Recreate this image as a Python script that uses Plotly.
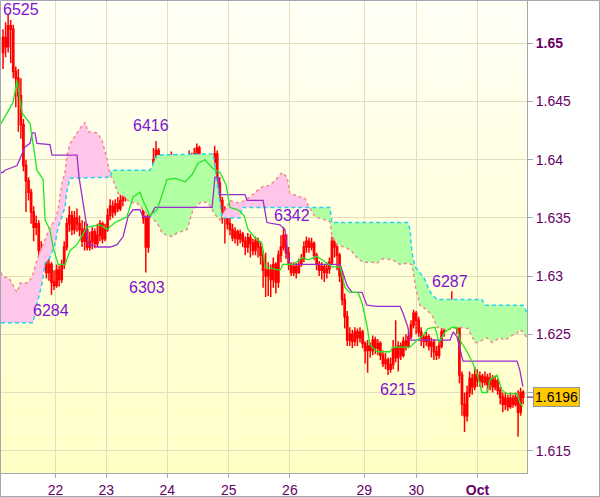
import numpy as np
import plotly.graph_objects as go

# ---------------- data (prices in pips above 1.6000) ----------------
BASE = 1.6
PIP = 1e-4

first_open = 492
close = [505, 497, 515, 512, 476, 470, 455, 430, 395, 382,
         372, 355, 342, 345, 322, 312, 318, 303, 310, 295,
         292, 305, 297, 310, 325, 345, 352, 340, 350, 345,
         340, 330, 340, 325, 330, 338, 328, 335, 345, 332,
         340, 352, 360, 355, 362, 358, 365, 368, 372, 370,
         380, 386, 378, 385, 382, 350, 325, 355, 385, 400,
         408, 385, 365, 372, 360, 395, 402, 390, 398, 392,
         396, 390, 398, 403, 396, 405, 410, 402, 395, 390,
         393, 384, 398, 405, 380, 365, 350, 355, 345, 340,
         333, 338, 332, 336, 330, 325, 333, 328, 322, 330,
         325, 318, 305, 300, 305, 297, 310, 295, 318, 325,
         335, 320, 310, 303, 308, 303, 310, 315, 325, 330,
         325, 328, 318, 310, 305, 308, 303, 306, 312, 330,
         325, 318, 300, 280, 265, 245, 250, 244, 252, 247,
         252, 242, 236, 240, 236, 245, 238, 242, 232, 225,
         228, 220, 224, 238, 230, 240, 232, 244, 240, 248,
         258, 268, 262, 252, 247, 244, 248, 240, 243, 235,
         232, 240, 252, 262, 268, 262, 272, 262, 255, 215,
         190, 180, 200, 212, 205, 215, 210, 214, 209, 213,
         207, 212, 205, 210, 202, 196, 190, 195, 188, 195,
         190, 196, 183, 200, 196]
high = [512, 518, 525, 520, 516, 480, 478, 470, 435, 400,
        385, 375, 360, 352, 348, 330, 322, 320, 315, 312,
        305, 310, 309, 314, 330, 350, 360, 356, 356, 358,
        352, 348, 347, 345, 338, 342, 341, 345, 348, 347,
        345, 358, 366, 365, 366, 368, 370, 372, 378, 378,
        385, 389, 388, 390, 388, 384, 352, 362, 392, 410,
        416, 410, 390, 380, 378, 400, 407, 405, 402, 403,
        400, 400, 402, 408, 406, 410, 414, 412, 405, 398,
        398, 395, 402, 412, 408, 385, 368, 360, 358, 350,
        345, 342, 340, 340, 338, 334, 337, 336, 332, 334,
        333, 330, 322, 320, 312, 310, 316, 312, 322, 335,
        342, 336, 325, 312, 312, 311, 315, 319, 330, 334,
        333, 333, 330, 320, 313, 312, 310, 312, 316, 334,
        334, 328, 320, 305, 285, 270, 256, 254, 256, 255,
        256, 254, 244, 245, 243, 249, 248, 246, 244, 236,
        234, 230, 230, 245, 262, 244, 243, 248, 250, 252,
        262, 271, 270, 265, 256, 250, 252, 250, 247, 246,
        240, 245, 258, 265, 272, 278, 287, 276, 268, 256,
        218, 200, 206, 218, 216, 222, 220, 218, 216, 218,
        216, 217, 215, 214, 212, 205, 200, 200, 198, 200,
        198, 200, 202, 204, 202]
low = [478, 488, 492, 483, 470, 445, 424, 418, 390, 355,
       365, 345, 330, 335, 315, 301, 305, 298, 296, 284,
       288, 290, 291, 294, 306, 322, 338, 335, 336, 338,
       334, 325, 322, 322, 322, 323, 324, 325, 330, 328,
       330, 338, 348, 350, 352, 355, 356, 360, 364, 365,
       368, 375, 372, 374, 375, 345, 303, 320, 352, 382,
       395, 378, 355, 360, 354, 358, 385, 386, 385, 386,
       387, 385, 388, 394, 392, 394, 400, 398, 389, 385,
       383, 380, 380, 390, 376, 355, 345, 328, 340, 335,
       330, 328, 326, 328, 325, 318, 320, 316, 318, 318,
       316, 310, 290, 282, 283, 282, 290, 285, 290, 312,
       322, 315, 305, 300, 300, 298, 302, 308, 312, 320,
       320, 322, 314, 305, 300, 297, 295, 298, 302, 310,
       316, 305, 295, 275, 255, 240, 240, 238, 240, 240,
       243, 238, 225, 217, 230, 232, 233, 232, 228, 222,
       220, 215, 217, 220, 226, 218, 228, 230, 236, 238,
       246, 255, 250, 248, 240, 238, 240, 236, 230, 228,
       228, 229, 238, 248, 258, 258, 260, 255, 250, 208,
       180, 166, 175, 196, 198, 202, 205, 205, 204, 206,
       200, 202, 200, 202, 198, 190, 183, 185, 184, 186,
       187, 188, 162, 180, 190]

# Ichimoku lines: (bar index, pips)
tenkan_x = [-0.8, 3.9, 5.5, 7.5, 10.6, 13.3, 15.7, 16.5, 18.4, 19.6, 21.6, 24.3, 26.3, 29.0,
            32.9, 38.0, 40.8, 43.9, 48.6, 51.0, 53.7, 54.9, 57.6, 60.4, 62.4, 64.3, 67.5,
            71.4, 74.1, 76.5, 79.2, 82.0, 85.1, 87.5, 89.0, 92.2, 94.5, 96.1, 98.8, 101.6,
            102.7, 108.6, 109.8, 113.7, 117.6, 119.6, 123.1, 126.3, 129.0, 132.2, 134.1,
            136.1, 139.2, 140.8, 142.7, 143.9, 146.7, 151.8, 152.9, 159.6, 162.4, 164.7,
            166.7, 169.4, 171.0, 173.3, 176.1, 178.0, 179.2, 182.0, 184.3, 186.3, 187.8,
            189.8, 191.0, 193.7, 195.7, 197.6, 201.6, 202.7, 203.9]
tenkan_p = [431, 449, 468, 440, 431, 391, 383, 348, 340, 325, 310, 310, 322, 327,
            342, 344, 340, 346, 351, 368, 372, 365, 352, 357, 370, 383, 384,
            381, 387, 397, 400, 393, 389, 378, 359, 357, 352, 340, 333, 328,
            308, 305, 310, 310, 316, 314, 317, 312, 308, 308, 290,
            286, 286, 277, 258, 241, 235, 235, 239, 239, 245, 249,
            255, 256, 243, 252, 256, 256, 245, 235, 225, 213, 200,
            200, 211, 215, 202, 199, 199, 191, 188]

kijun_x = [-0.8, 0.0, 0.8, 4.7, 5.5, 8.6, 10.6, 11.4, 12.5, 13.3, 18.4, 19.2, 29.0, 29.8,
           31.0, 32.9, 33.3, 36.9, 42.0, 44.7, 47.1, 49.0, 51.0, 53.7, 54.9, 57.6, 59.6,
           82.0, 83.1, 84.3, 85.1, 94.9, 95.7, 102.0, 103.5, 108.6, 110.6, 111.8, 112.5,
           132.2, 133.3, 134.9, 136.9, 140.8, 142.7, 146.7, 155.7, 156.9, 158.8, 159.6,
           175.3, 176.5, 178.0, 179.2, 180.4, 201.6, 202.7, 203.9]
kijun_p = [389, 389, 391, 394, 395, 411, 414, 423, 423, 414, 413, 404, 404, 385,
           368, 342, 328, 325, 325, 327, 334, 351, 357, 357, 351, 351, 359,
           359, 385, 385, 370, 370, 365, 365, 346, 344, 340, 316, 310,
           310, 303, 292, 286, 286, 275, 274, 274, 268, 256, 245,
           245, 252, 248, 237, 227, 227, 219, 205]

spanA_x = [-0.8, 11.8, 12.5, 15.3, 16.5, 18.4, 20.4, 21.6, 24.3, 25.1, 26.3, 42.0, 42.7,
           57.6, 58.4, 60.4, 82.4, 83.1, 84.3, 85.9, 92.9, 93.7, 128.2, 129.0, 158.8,
           159.6, 160.4, 161.6, 163.5, 165.5, 166.7, 168.2, 170.2, 187.8, 189.0, 203.9, 205.5]
spanA_p = [260, 260, 268, 294, 311, 316, 328, 342, 359, 374, 384, 385, 391,
           391, 394, 404, 405, 394, 377, 350, 350, 359, 359, 346, 346,
           340, 320, 308, 303, 297, 290, 284, 280, 280, 275, 275, 269]

spanB_x = [-0.8, 0.0, 1.6, 2.7, 5.5, 6.7, 9.4, 11.4, 13.3, 15.3, 18.4, 20.4, 21.6, 23.1,
           24.3, 25.1, 26.3, 30.2, 32.2, 33.3, 36.9, 38.8, 40.8, 42.0, 43.1, 45.1, 47.8,
           49.8, 52.5, 54.9, 57.6, 60.4, 62.4, 64.3, 66.3, 68.2, 72.2, 74.5, 76.1, 78.0,
           80.4, 82.0, 83.1, 85.1, 86.3, 87.8, 89.0, 91.8, 94.1, 96.9, 100.0, 102.0, 104.7,
           107.5, 109.4, 111.4, 112.5, 116.5, 118.4, 119.6, 120.4, 121.2, 122.4, 128.2,
           129.0, 131.0, 134.9, 136.9, 138.8, 141.2, 144.7, 146.7, 149.0, 152.9, 155.7,
           158.4, 160.4, 162.0, 163.5, 166.3, 168.6, 170.2, 174.1, 176.5, 179.2, 182.4,
           185.1, 186.3, 189.8, 191.8, 194.9, 196.9, 199.6, 201.6, 202.7, 203.9, 205.5]
spanB_p = [303, 299, 299, 297, 286, 294, 294, 299, 314, 325, 342, 348, 357, 380,
           389, 404, 414, 427, 432, 424, 423, 417, 400, 387, 383, 371, 368,
           363, 363, 357, 351, 346, 337, 335, 334, 337, 340, 357, 361, 364,
           363, 357, 353, 348, 354, 359, 365, 363, 364, 368, 374, 377, 378,
           384, 389, 385, 371, 368, 367, 361, 359, 355, 351, 347,
           335, 327, 324, 321, 316, 312, 312, 311, 315, 314, 310,
           311, 310, 288, 275, 271, 265, 256, 254, 255, 256, 255,
           243, 243, 247, 243, 247, 245, 249, 251, 254, 252, 247]

day_pos = [20.6, 40.5, 64.4, 88.5, 112.5, 141.7, 162.1, 186.1]
day_labels = ["22", "23", "24", "25", "26", "29", "30", "<b>Oct</b>"]
price_ticks = [1.615, 1.62, 1.625, 1.63, 1.635, 1.64, 1.645, 1.65]
price_tick_text = ["1.615", "", "1.625", "1.63", "1.635", "1.64", "1.645", "<b>1.65</b>"]

# labelled extremes: (bar index, 'high'/'low')
peaks = [(2, "high"), (19, "low"), (56, "low"), (60, "high"),
         (110, "high"), (151, "low"), (176, "high")]
peak_shift = [(13, 5), (0, -16), (1, -15), (-5, 16), (8, 12), (10, -14), (-2, 10)]

# ---------------- conversion ----------------
def px(v):
    return [BASE + p * PIP for p in v]

n = len(close)
xi = list(range(n))
opens = [first_open] + close[:-1]

# ---------------- cloud polygons ----------------
gx = np.union1d(spanA_x, spanB_x)
ga = np.interp(gx, spanA_x, spanA_p)
gb = np.interp(gx, spanB_x, spanB_p)
cx, ca, cb = [gx[0]], [ga[0]], [gb[0]]
for k in range(1, len(gx)):
    d0 = ga[k - 1] - gb[k - 1]
    d1 = ga[k] - gb[k]
    if d0 * d1 < 0:
        t = d0 / (d0 - d1)
        xc = gx[k - 1] + t * (gx[k] - gx[k - 1])
        yc = ga[k - 1] + t * (ga[k] - ga[k - 1])
        cx.append(xc); ca.append(yc); cb.append(yc)
    cx.append(gx[k]); ca.append(ga[k]); cb.append(gb[k])
cx = np.array(cx); ca = np.array(ca); cb = np.array(cb)
lower = np.minimum(ca, cb)

fig = go.Figure()

# green cloud (A above B)
fig.add_trace(go.Scatter(
    x=list(cx) + list(cx[::-1]), y=px(list(ca) + list(lower[::-1])),
    fill="toself", fillcolor="#b2ffa4", mode="none", hoverinfo="skip", showlegend=False))
# pink cloud (B above A)
fig.add_trace(go.Scatter(
    x=list(cx) + list(cx[::-1]), y=px(list(cb) + list(lower[::-1])),
    fill="toself", fillcolor="#ffc6ea", mode="none", hoverinfo="skip", showlegend=False))

# cloud edges
fig.add_trace(go.Scatter(x=spanB_x, y=px(spanB_p), mode="lines",
                         line=dict(color="#f28a8a", width=1.5, dash="3px,3px"),
                         hoverinfo="skip", showlegend=False))
fig.add_trace(go.Scatter(x=spanA_x, y=px(spanA_p), mode="lines",
                         line=dict(color="#22d4f0", width=1.5, dash="4px,3px"),
                         hoverinfo="skip", showlegend=False))

# candles
fig.add_trace(go.Candlestick(
    x=xi, open=px(opens), high=px(high), low=px(low), close=px(close),
    increasing=dict(line=dict(color="#ff0000", width=1.5), fillcolor="rgba(0,0,0,0)"),
    decreasing=dict(line=dict(color="#ff0000", width=1.5), fillcolor="#8078b8"),
    whiskerwidth=0, hoverinfo="skip", showlegend=False))

# kijun / tenkan
fig.add_trace(go.Scatter(x=kijun_x, y=px(kijun_p), mode="lines",
                         line=dict(color="#9a2ed0", width=1.3),
                         hoverinfo="skip", showlegend=False))
fig.add_trace(go.Scatter(x=tenkan_x, y=px(tenkan_p), mode="lines",
                         line=dict(color="#22e622", width=1.3),
                         hoverinfo="skip", showlegend=False))

# ---------------- background gradient ----------------
shapes = []
nb = 60
top_c = np.array([255, 255, 246])
bot_c = np.array([255, 255, 196])
for k in range(nb):
    f = (k + 0.5) / nb
    c = bot_c + (top_c - bot_c) * f
    shapes.append(dict(type="rect", xref="paper", yref="paper",
                       x0=0, x1=1, y0=k / nb, y1=(k + 1) / nb,
                       fillcolor="rgb(%d,%d,%d)" % tuple(c.round().astype(int)),
                       line=dict(width=0), layer="below"))

PW, PH, ML, MB = 526, 473, 1, 24
# outer frame
shapes.append(dict(type="rect", xref="paper", yref="paper",
                   x0=(0.5 - ML) / PW, x1=(599.5 - ML) / PW,
                   y0=(PH - 496.5) / PH, y1=(PH - 0.5) / PH,
                   line=dict(color="#a0a8b0", width=1), layer="above"))
# last price tick
last_price = BASE + close[-1] * PIP
shapes.append(dict(type="line", xref="paper", yref="y",
                   x0=1, x1=1 + 6 / PW, y0=last_price, y1=last_price,
                   line=dict(color="#660066", width=1), layer="above"))

# ---------------- annotations ----------------
annotations = []
for (idx, kind), (dx, dy) in zip(peaks, peak_shift):
    v = high[idx] if kind == "high" else low[idx]
    annotations.append(dict(
        x=idx, y=BASE + v * PIP, xref="x", yref="y",
        text=str(6000 + v), showarrow=False,
        xanchor="center", yanchor="middle", xshift=dx, yshift=dy,
        font=dict(family="Liberation Sans, Arial", size=16, color="#8012d2")))
annotations.append(dict(
    x=1, y=last_price, xref="paper", yref="y", xanchor="left", yanchor="middle",
    xshift=6, text="%.4f" % last_price, showarrow=False,
    bgcolor="#ffc800", bordercolor="#8c96a0", borderwidth=1, borderpad=1,
    font=dict(family="Liberation Sans, Arial", size=14, color="#000000")))

axis_font = dict(family="Liberation Sans, Arial", size=14, color="#660066")

fig.update_layout(
    width=600, height=497,
    margin=dict(l=ML, r=600 - ML - PW, t=0, b=MB, pad=0),
    paper_bgcolor="#ffffff", plot_bgcolor="rgba(0,0,0,0)",
    showlegend=False,
    shapes=shapes, annotations=annotations,
    xaxis=dict(range=[-0.8, 205.5], tickmode="array", tickvals=day_pos, ticktext=day_labels,
               showgrid=True, gridcolor="#e2e0bc", gridwidth=1, zeroline=False,
               ticks="outside", ticklen=4, tickcolor="#a0a8b0",
               showline=True, linecolor="#a0a8b0", linewidth=1,
               tickfont=axis_font, rangeslider=dict(visible=False), fixedrange=True),
    yaxis=dict(range=[1.613084, 1.65372], side="right", tickmode="array",
               tickvals=price_ticks, ticktext=price_tick_text,
               showgrid=True, gridcolor="#e2e0bc", gridwidth=1, zeroline=False,
               ticks="outside", ticklen=5, tickcolor="#a0a8b0",
               showline=True, linecolor="#a0a8b0", linewidth=1,
               tickfont=axis_font, fixedrange=True),
)

fig.write_html("out.html", config={"displayModeBar": False},
               post_script="document.body.style.margin='0px';document.body.style.overflow='hidden';")
